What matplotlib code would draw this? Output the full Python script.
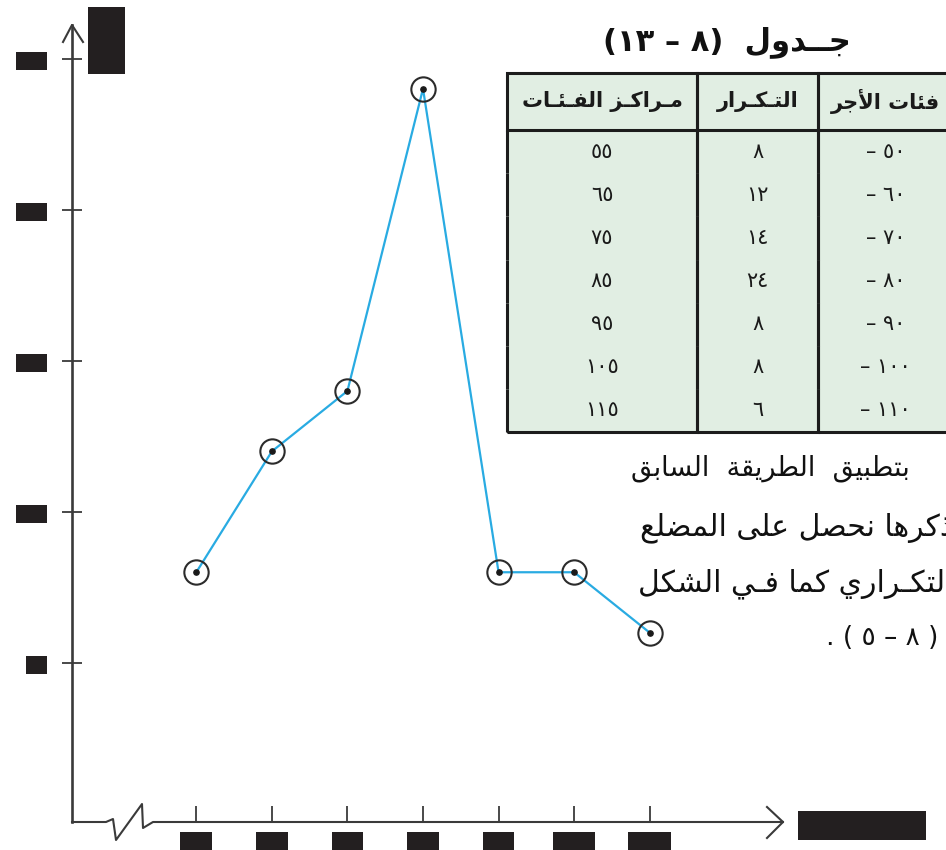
import matplotlib
import matplotlib.pyplot as plt
from matplotlib.path import Path

matplotlib.use("Agg")

# ---- data ----
class_starts = [50, 60, 70, 80, 90, 100, 110]
frequencies = [8, 12, 14, 24, 8, 8, 6]
class_centers = [55, 65, 75, 85, 95, 105, 115]
y_tick_values = [5, 10, 15, 20, 25]

table_title = "جــدول"
header_labels = ["مـراكـز الفـئـات", "التـكـرار", "فئات الأجر"]
paragraph_lines = ["بتطبيق  الطريقة  السابق", "ذكرها نحصل على المضلع", "التكـراري كما فـي الشكل"]
y_axis_label = "التكرار"
x_axis_label = "مراكز الفئات"

# ---- minimal Arabic shaping (matplotlib has no shaping / bidi) ----
AR_ORDER = "ءآأؤإئابةتثجحخدذرزسشصضطظعغفقكلمنهوىي"
TWO_FORM = set("آأؤإادذرزوىة")
TATWEEL = "ـ"
AR_FORMS = {}
_code = 0xFE80
for ch in AR_ORDER:
    n = 1 if ch == "ء" else (2 if ch in TWO_FORM else 4)
    AR_FORMS[ch] = (_code, n)
    _code += n
LAM_ALEF = {"آ": 0xFEF5, "أ": 0xFEF7, "إ": 0xFEF9, "ا": 0xFEFB}
AR_DIGITS = str.maketrans("0123456789", "٠١٢٣٤٥٦٧٨٩")


def joins_forward(c):
    return c == TATWEEL or AR_FORMS.get(c, (0, 0))[1] == 4


def joins_back(c):
    return c == TATWEEL or AR_FORMS.get(c, (0, 0))[1] >= 2


def ar(text):
    out = []
    i = 0
    while i < len(text):
        c = text[i]
        prev_j = i > 0 and joins_forward(text[i - 1])
        if c == "ل" and i + 1 < len(text) and text[i + 1] in LAM_ALEF:
            out.append(chr(LAM_ALEF[text[i + 1]] + (1 if prev_j else 0)))
            i += 2
            continue
        if c in AR_FORMS:
            base, n = AR_FORMS[c]
            next_j = n == 4 and i + 1 < len(text) and joins_back(text[i + 1])
            if n == 1:
                form = 0
            elif n == 2:
                form = 1 if prev_j else 0
            elif prev_j and next_j:
                form = 3
            elif prev_j:
                form = 1
            elif next_j:
                form = 2
            else:
                form = 0
            out.append(chr(base + form))
        else:
            out.append(c)
        i += 1
    return "".join(reversed(out))


def ar_num(v):
    return str(v).translate(AR_DIGITS)


def redaction(pad_em=0.32, height_em=1.08, width_em=None):
    # flat black box over a label, like the censored labels on the page
    def box(x0, y0, width, height, m):
        cx, cy = x0 + width / 2, y0 + height / 2
        hw = width_em * m / 2 if width_em else width / 2 + pad_em * m
        hh = height_em * m / 2
        return Path([(cx - hw, cy - hh), (cx + hw, cy - hh), (cx + hw, cy + hh),
                     (cx - hw, cy + hh), (cx - hw, cy - hh)], closed=True)
    return box


INK = "#231f20"
TEXT = "#111111"
W, H = 946, 850
fig = plt.figure(figsize=(W / 100, H / 100), dpi=100)

# ---- frequency polygon ----
AX_L, AX_R, AX_B, AX_T = 72, 783, 822, 25
ax = fig.add_axes([AX_L / W, 1 - AX_B / H, (AX_R - AX_L) / W, (AX_B - AX_T) / H])
ax.set_xlim(38.55, 132.64)
ax.set_ylim(-0.265, 26.11)
for side in ["top", "right", "bottom"]:
    ax.spines[side].set_visible(False)
ax.spines["left"].set_linewidth(1.9)
ax.spines["left"].set_color("#3a3a3a")

ax.plot(class_centers, frequencies, color="#29abe2", lw=1.6, zorder=2)
ax.plot(class_centers, frequencies, linestyle="none", marker="o", ms=17.5,
        mfc="none", mec="#2b2b2b", mew=1.5, zorder=3)
ax.plot(class_centers, frequencies, linestyle="none", marker="o", ms=3.8,
        color="#1a1a1a", zorder=4)

ax.set_yticks(y_tick_values)
ax.set_yticklabels([str(v) for v in y_tick_values])
ax.set_xticks(class_centers)
ax.set_xticklabels([str(v) for v in class_centers])
ax.tick_params(axis="y", direction="inout", length=15, width=1.3, color="#3a3a3a",
               pad=14, labelsize=12, labelcolor=INK)
ax.tick_params(axis="x", direction="in", length=11.5, width=1.3, color="#3a3a3a",
               pad=7.5, labelsize=12, labelcolor=INK)
for lbl in ax.get_yticklabels() + ax.get_xticklabels():
    lbl.set_bbox(dict(boxstyle=redaction(), fc=INK, ec="none"))

# x axis drawn by hand: break symbol near the origin, open arrow heads
aw, ah = AX_R - AX_L, AX_B - AX_T
axis_pts = [(0, 0), (34, 0), (41, 3), (44, -18), (70, 18), (71, -6), (76, -3), (81, 0), (aw, 0)]
ax.plot([p[0] / aw for p in axis_pts], [p[1] / ah for p in axis_pts], color="#3a3a3a",
        lw=1.5, transform=ax.transAxes, clip_on=False)
ax.plot([-9 / aw, 0, 11 / aw], [(ah - 17) / ah, 1, (ah - 17) / ah], color="#3a3a3a",
        lw=1.5, transform=ax.transAxes, clip_on=False)
ax.plot([(aw - 16) / aw, 1, (aw - 16) / aw], [15 / ah, 0, -16 / ah], color="#3a3a3a",
        lw=1.5, transform=ax.transAxes, clip_on=False)

# axis titles (also censored on the page)
fig.text(106.5 / W, 1 - 40.5 / H, ar(y_axis_label), rotation=90, ha="center", va="center",
         fontsize=13, color=INK,
         bbox=dict(boxstyle=redaction(width_em=3.7, height_em=2.05), fc=INK, ec="none"))
fig.text(862 / W, 1 - 825.5 / H, ar(x_axis_label), ha="center", va="center",
         fontsize=13, color=INK,
         bbox=dict(boxstyle=redaction(width_em=7.1, height_em=1.6), fc=INK, ec="none"))

# ---- table ----
fig.text(727 / W, 1 - 42 / H, "(" + ar_num(13) + " – " + ar_num(8) + ")  " + ar(table_title),
         ha="center", va="center", fontsize=22, fontweight="bold", color=TEXT)

tab_ax = fig.add_axes([507 / W, 1 - 432 / H, (953 - 507) / W, (432 - 73) / H])
tab_ax.set_facecolor("#e1eee3")
tab_ax.set_xticks([])
tab_ax.set_yticks([])
for sp in tab_ax.spines.values():
    sp.set_visible(False)
cell_text = [[ar_num(c), ar_num(f), "– " + ar_num(s)]
             for s, f, c in zip(class_starts, frequencies, class_centers)]
tbl = tab_ax.table(cellText=cell_text, colLabels=[ar(h) for h in header_labels],
                   colWidths=[190, 121, 135], cellLoc="center", bbox=[0, 0, 1, 1])
tbl.auto_set_font_size(False)
n_rows = len(cell_text)
for (r, c), cell in tbl.get_celld().items():
    cell.set_height(57 if r == 0 else 43)
    cell.set_facecolor("none")
    cell.set_edgecolor("#1c1c1c")
    cell.set_linewidth(2.2)
    if r == 0:
        cell.visible_edges = "closed"
        cell.get_text().set_fontsize(15)
        cell.get_text().set_fontweight("bold")
    else:
        cell.visible_edges = "BLR" if r == n_rows else "LR"
        cell.get_text().set_fontsize(15)
    cell.get_text().set_color("#1a1a1a")

# ---- paragraph under the table (runs past the right edge of the page) ----
fig.text(910 / W, 1 - 468 / H, ar(paragraph_lines[0]), ha="right", va="center",
         fontsize=19.5, color=TEXT)
fig.text(953 / W, 1 - 528 / H, ar(paragraph_lines[1]), ha="right", va="center",
         fontsize=21.5, color=TEXT)
fig.text(953 / W, 1 - 584 / H, ar(paragraph_lines[2]), ha="right", va="center",
         fontsize=21.5, color=TEXT)
fig.text(826 / W, 1 - 638 / H, ". ( " + ar_num(5) + " – " + ar_num(8) + " )", ha="left",
         va="center", fontsize=19, color=TEXT)

fig.savefig("out.png", dpi=100)
